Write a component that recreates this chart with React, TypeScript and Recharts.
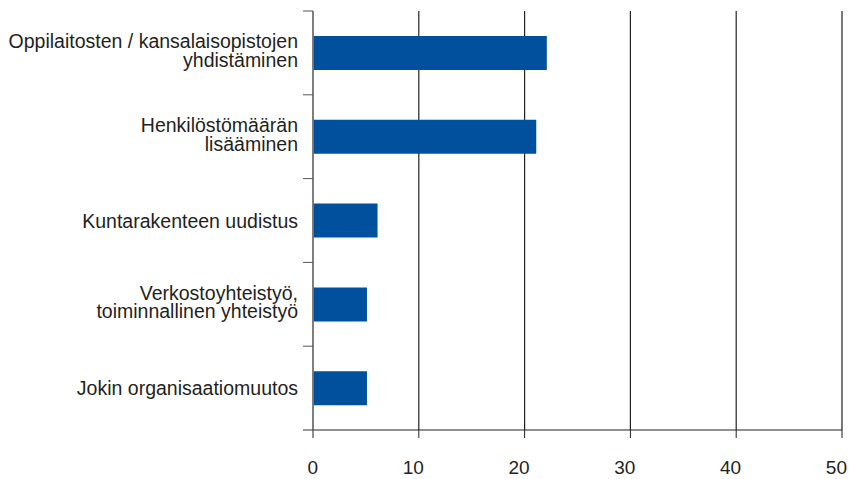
import React from "react"
import { Bar, BarChart, CartesianGrid, XAxis, YAxis } from "recharts"

const categories = [
  "Oppilaitosten / kansalaisopistojen\nyhdistäminen",
  "Henkilöstömäärän\nlisääminen",
  "Kuntarakenteen uudistus",
  "Verkostoyhteistyö,\ntoiminnallinen yhteistyö",
  "Jokin organisaatiomuutos",
]
const values = [22.1, 21.1, 6.1, 5.1, 5.1]
const xTicks = [0, 10, 20, 30, 40, 50]

const data = categories.map((name, i) => ({ name, value: values[i] }))

const W = 849
const H = 479
const TOP = 11
const BOTTOM_AXIS = 49
const Y_W = 313
const RIGHT = 7
const BAND = (H - TOP - BOTTOM_AXIS) / categories.length
const TICK_SIZE = 10
const TICK_MARGIN = 5

const textColor = "#231f20"
const font = "Liberation Sans, Arial, sans-serif"

const CategoryTick = (props: any) => {
  const { x, y, payload, index } = props
  const lines = String(payload.value).split("\n")
  const lx = x + TICK_MARGIN
  const first = lines.length > 1 ? y - 4.5 : y + 7
  return (
    <g>
      <line x1={lx} x2={lx + TICK_SIZE} y1={y - BAND / 2} y2={y - BAND / 2} stroke="#555" />
      {index === categories.length - 1 && (
        <line x1={lx} x2={lx + TICK_SIZE} y1={y + BAND / 2} y2={y + BAND / 2} stroke="#333" />
      )}
      <text x={x} y={first} textAnchor="end" fill={textColor} fontSize={19.5} fontFamily={font}>
        {lines.map((l, i) => (
          <tspan key={i} x={x} dy={i === 0 ? 0 : 18.5}>
            {l}
          </tspan>
        ))}
      </text>
    </g>
  )
}

const ValueTick = (props: any) => {
  const { x, y, payload } = props
  return (
    <text x={x + 5} y={y} dy="0.71em" textAnchor="end" fill={textColor} fontSize={19} fontFamily={font}>
      {payload.value}
    </text>
  )
}

export default function App() {
  return (
    <div style={{ position: "absolute", left: 0, top: 0, width: W, height: H, background: "#fff" }}>
      <BarChart
        width={W}
        height={H}
        data={data}
        layout="vertical"
        margin={{ top: TOP, right: RIGHT, bottom: 0, left: 0 }}
        barSize={34}
      >
        <CartesianGrid horizontal={false} vertical={true} stroke="#222" strokeWidth={1.2} />
        <XAxis
          type="number"
          domain={[0, 50]}
          ticks={xTicks}
          height={BOTTOM_AXIS}
          tickSize={8}
          tickMargin={23}
          stroke="#222"
          tick={<ValueTick />}
          interval={0}
        />
        <YAxis
          type="category"
          dataKey="name"
          width={Y_W}
          tickLine={false}
          tickSize={TICK_SIZE}
          tickMargin={TICK_MARGIN}
          axisLine={{ stroke: "#808080", strokeWidth: 1.5 }}
          tick={<CategoryTick />}
          interval={0}
        />
        <Bar dataKey="value" fill="#00509e" isAnimationActive={false} />
      </BarChart>
    </div>
  )
}
